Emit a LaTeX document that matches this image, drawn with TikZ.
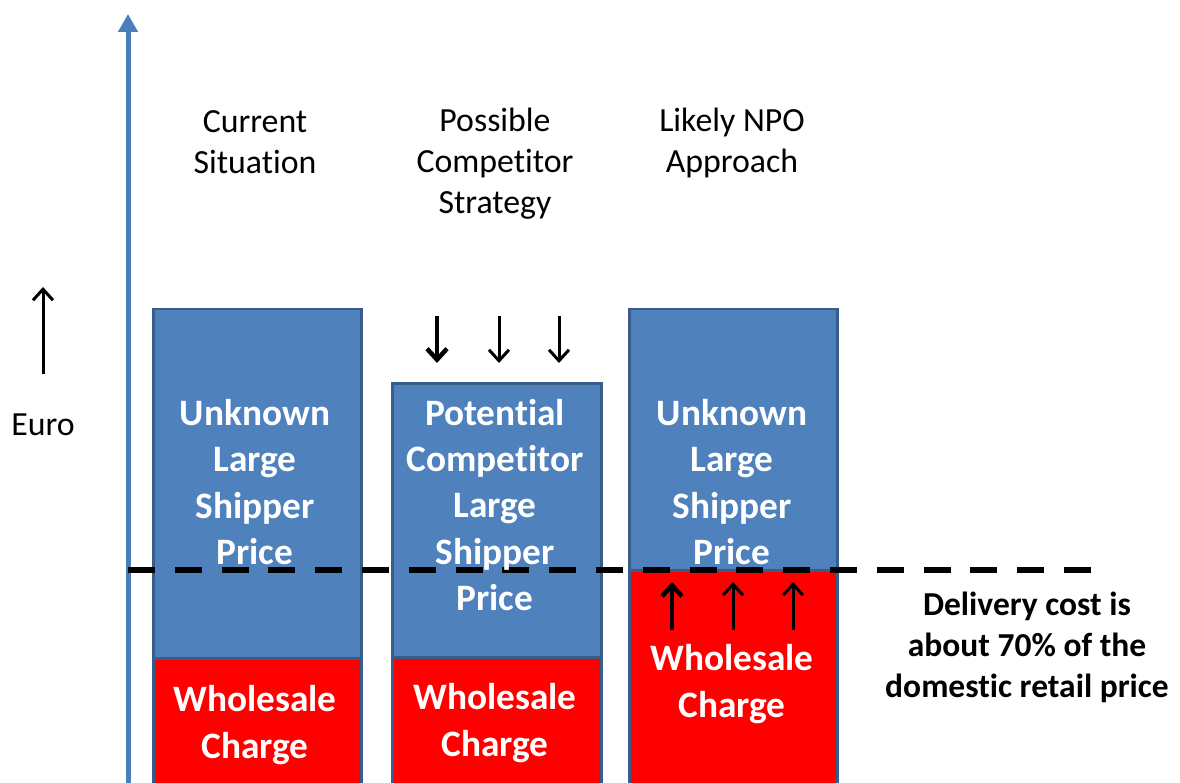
\documentclass[tikz,border=0pt]{standalone}
\usepackage{fontspec}
\setmainfont{Carlito}[Ligatures=NoCommon]
\usetikzlibrary{arrows.meta}
\definecolor{barblue}{HTML}{4F81BD}
\definecolor{barborder}{HTML}{385D8A}
\definecolor{axisblue}{HTML}{4A7EBB}
\definecolor{barred}{HTML}{FF0000}
\tikzset{
  bluebar/.style={draw=barborder, fill=barblue, line width=2.5pt, inner sep=0pt, anchor=north west},
  redbar/.style={draw=barborder, fill=barred, line width=2.5pt, inner sep=0pt, anchor=north west},
  titletext/.style={align=center, font=\fontsize{33.8}{41}\selectfont, inner sep=0pt},
  bartext/.style={align=center, text=white, font=\fontsize{37.3}{46.3}\selectfont\bfseries, inner sep=0pt},
  notetext/.style={align=center, font=\fontsize{33.5}{41}\selectfont\bfseries, inner sep=0pt},
  blackarrow/.style={line width=3pt, -{Straight Barb[length=11pt, width=20pt, line width=3pt]}},
  thickarrow/.style={line width=4.5pt, -{Straight Barb[length=11pt, width=20pt, line width=4.5pt]}},
  axisline/.style={draw=axisblue, line width=5pt, -{Triangle[length=18pt, width=19pt]}},
  levelline/.style={line width=6pt, dash pattern=on 27pt off 19.8pt}
}
\begin{document}
\begin{tikzpicture}[x=1pt, y=-1pt]
\useasboundingbox (0,0) rectangle (1180,783);
% bars
\node[bluebar, minimum width=208pt, minimum height=500pt] (b1) at (152,308) {};
\node[redbar, minimum width=208pt, minimum height=150pt] (r1) at (152,657) {};
\node[bluebar, minimum width=209pt, minimum height=420pt] (b2) at (391,382) {};
\node[redbar, minimum width=209pt, minimum height=150pt] (r2) at (391,656) {};
\node[bluebar, minimum width=208pt, minimum height=500pt] (b3) at (628,308) {};
\node[redbar, minimum width=208pt, minimum height=240pt] (r3) at (628,569) {};
% axis
\coordinate (axbot) at (128,800);
\coordinate (axtop) at (128,14);
\draw[axisline] (axbot) -- (axtop);
% level line
\coordinate (lvA) at (128,570);
\coordinate (lvB) at (1092,570);
\draw[levelline] (lvA) -- (lvB);
% euro arrow
\coordinate (eA) at (43,374);
\coordinate (eB) at (43,287);
\draw[blackarrow] (eA) -- (eB);
\node[titletext] (euro) at (43,425) {Euro};
% down arrows
\coordinate (d1a) at (437,316); \coordinate (d1b) at (437,363);
\coordinate (d2a) at (499,316); \coordinate (d2b) at (499,363);
\coordinate (d3a) at (559,316); \coordinate (d3b) at (559,363);
\draw[thickarrow] (d1a) -- (d1b);
\draw[blackarrow] (d2a) -- (d2b);
\draw[blackarrow] (d3a) -- (d3b);
% up arrows
\coordinate (u1a) at (672,630); \coordinate (u1b) at (672,582);
\coordinate (u2a) at (733,630); \coordinate (u2b) at (733,582);
\coordinate (u3a) at (793,630); \coordinate (u3b) at (793,582);
\draw[thickarrow] (u1a) -- (u1b);
\draw[blackarrow] (u2a) -- (u2b);
\draw[blackarrow] (u3a) -- (u3b);
% titles
\node[titletext] (t1) at (255,142) {Current\\Situation};
\node[titletext] (t2) at (495,164) {Possible\\Competitor\\Strategy};
\node[titletext] (t3) at (732,143) {Likely NPO\\Approach};
% bar texts
\node[bartext] (bt1) at (255,482) {Unknown\\Large\\Shipper\\Price};
\node[bartext] (rt1) at (255,725) {Wholesale\\Charge};
\node[bartext] (bt2) at (495,505) {Potential\\Competitor\\Large\\Shipper\\Price};
\node[bartext] (rt2) at (495,723) {Wholesale\\Charge};
\node[bartext] (bt3) at (732,482) {Unknown\\Large\\Shipper\\Price};
\node[bartext] (rt3) at (732,684) {Wholesale\\Charge};
% note
\node[notetext] (note) at (1027,647) {Delivery cost is\\about 70\% of the\\domestic retail price};
\end{tikzpicture}
\end{document}
